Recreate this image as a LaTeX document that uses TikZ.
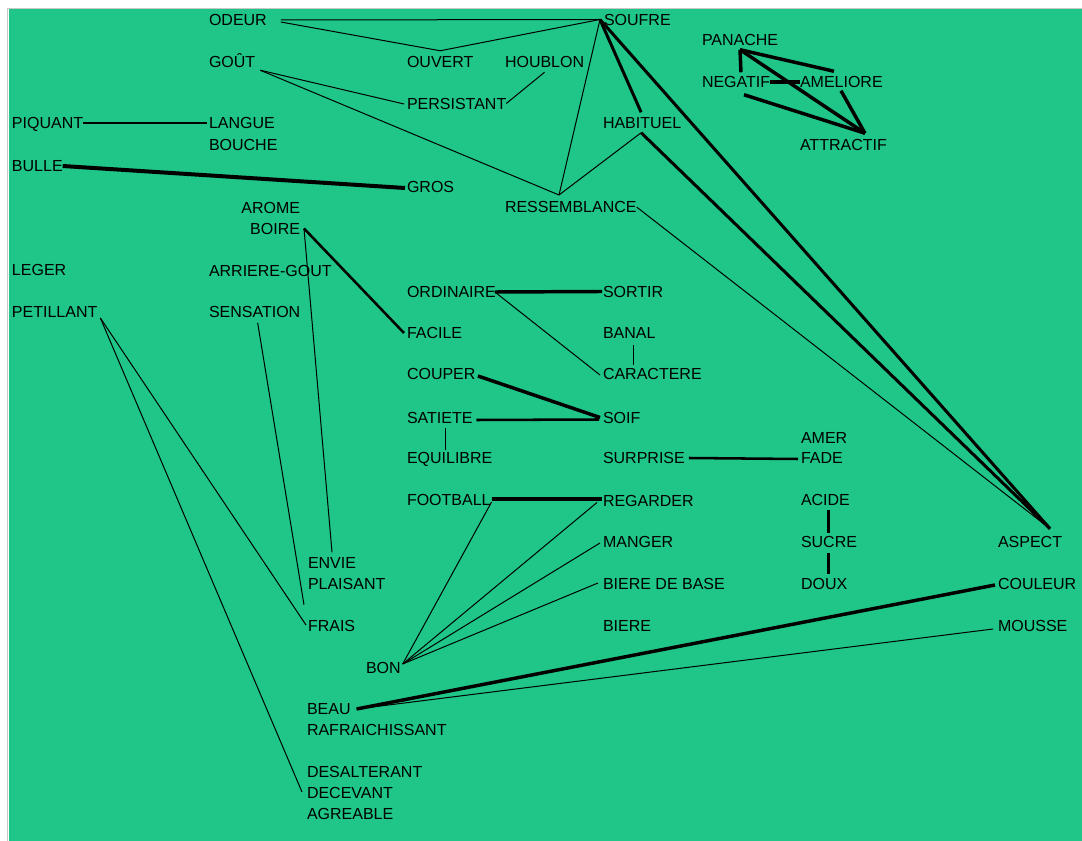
\documentclass[tikz,border=0pt]{standalone}
\usepackage{fontspec}
\setmainfont{Liberation Sans}
\usetikzlibrary{calc}
\definecolor{bggreen}{RGB}{31,198,135}
\definecolor{framegray}{RGB}{200,200,200}
\begin{document}
\begin{tikzpicture}[x=0.75pt,y=-0.75pt,
  lbl/.style={anchor=west,inner sep=0pt,outer sep=0pt,text height=8.6pt,text depth=0pt,font=\fontsize{12}{14}\selectfont,text=black},
  lblr/.style={lbl,anchor=east},
  thinln/.style={line width=0.75pt},
  midln/.style={line width=1.9pt},
  medln/.style={line width=2.25pt},
  thkln/.style={line width=2.6pt}]
\useasboundingbox (0,0) rectangle (1082,841);
\fill[white] (0,0) rectangle (1082,841);
\fill[bggreen] (8.5,9.5) rectangle (1082,841);
\draw[framegray,line width=1.1pt] (7.5,841) -- (7.5,8.5) -- (1082,8.5);

% labels
\node[lbl] (odeur) at (209,20) {ODEUR};
\node[lbl] (soufre) at (604,19.5) {SOUFRE};
\node[lbl] (panache) at (702,40) {PANACHE};
\node[lbl] (gout) at (209,61.5) {GOÛT};
\node[lbl] (ouvert) at (407,61.5) {OUVERT};
\node[lbl] (houblon) at (505,61.5) {HOUBLON};
\node[lbl] (negatif) at (702,82) {NEGATIF};
\node[lbl] (ameliore) at (800,82) {AMELIORE};
\node[lbl] (persistant) at (407,103.5) {PERSISTANT};
\node[lbl] (piquant) at (12,123) {PIQUANT};
\node[lbl] (langue) at (209,123) {LANGUE};
\node[lbl] (habituel) at (603,123) {HABITUEL};
\node[lbl] (bouche) at (209,145) {BOUCHE};
\node[lbl] (attractif) at (800,145) {ATTRACTIF};
\node[lbl] (bulle) at (12,166) {BULLE};
\node[lbl] (gros) at (407,186.5) {GROS};
\node[lblr] (arome) at (300,207.5) {AROME};
\node[lbl] (ressemblance) at (505,207) {RESSEMBLANCE};
\node[lblr] (boire) at (300,228.5) {BOIRE};
\node[lbl] (leger) at (12,270) {LEGER};
\node[lbl] (arriere) at (209,270.5) {ARRIERE-GOUT};
\node[lbl] (ordinaire) at (407,291.5) {ORDINAIRE};
\node[lbl] (sortir) at (603,291.5) {SORTIR};
\node[lbl] (petillant) at (12,312) {PETILLANT};
\node[lbl] (sensation) at (209,312) {SENSATION};
\node[lbl] (facile) at (407,333) {FACILE};
\node[lbl] (banal) at (603,333) {BANAL};
\node[lbl] (couper) at (407,374) {COUPER};
\node[lbl] (caractere) at (603,374) {CARACTERE};
\node[lbl] (satiete) at (407,417.5) {SATIETE};
\node[lbl] (soif) at (603,417.5) {SOIF};
\node[lbl] (amer) at (801,437.5) {AMER};
\node[lbl] (equilibre) at (407,458) {EQUILIBRE};
\node[lbl] (surprise) at (603,458) {SURPRISE};
\node[lbl] (fade) at (801,458) {FADE};
\node[lbl] (football) at (407,500) {FOOTBALL};
\node[lbl] (regarder) at (603,500.5) {REGARDER};
\node[lbl] (acide) at (801,500) {ACIDE};
\node[lbl] (aspect) at (998,541.7) {ASPECT};
\node[lbl] (manger) at (603,542) {MANGER};
\node[lbl] (sucre) at (801,542) {SUCRE};
\node[lbl] (envie) at (308,563) {ENVIE};
\node[lbl] (plaisant) at (308,584) {PLAISANT};
\node[lbl] (bierebase) at (603,584) {BIERE DE BASE};
\node[lbl] (doux) at (801,584) {DOUX};
\node[lbl] (couleur) at (998,584) {COULEUR};
\node[lbl] (frais) at (308,626) {FRAIS};
\node[lbl] (biere) at (603,626) {BIERE};
\node[lbl] (mousse) at (998,626) {MOUSSE};
\node[lbl] (bon) at (366,668) {BON};
\node[lbl] (beau) at (307,709) {BEAU};
\node[lbl] (rafraichissant) at (307,730) {RAFRAICHISSANT};
\node[lbl] (desalterant) at (307,772) {DESALTERANT};
\node[lbl] (decevant) at (307,793) {DECEVANT};
\node[lbl] (agreable) at (307,814) {AGREABLE};

% junction points
\coordinate (sJ) at ($(soufre.west)+(-4,0)$);
\coordinate (rJ) at ($(ressemblance.west)+(54,-12)$);
\coordinate (aJ) at ($(aspect.west)+(52,-13)$);
\coordinate (hJ) at ($(habituel.south)+(-1,4)$);
\coordinate (gJ) at ($(gout.south east)+(5,3)$);
\coordinate (bJ) at ($(boire.east)+(4,0)$);
\coordinate (pJ) at ($(petillant.east)+(3,6)$);
\coordinate (oJ) at ($(ordinaire.east)+(-1,0.5)$);
\coordinate (bnJ) at ($(bon.east)+(2,-4)$);
\coordinate (beJ) at ($(beau.east)+(6,0)$);
\coordinate (paJ) at ($(panache.south west)+(38,4)$);
\coordinate (atJ) at ($(attractif.north west)+(65,-6)$);

% connectors
\draw[thinln] ($(odeur.east)+(14,0)$) -- (sJ);
\draw[thinln] ($(odeur.east)+(14,2)$) -- ($(ouvert.north)+(0,-5)$) -- (sJ);
\draw[thinln] (gJ) -- ($(persistant.west)+(-3,0.5)$);
\draw[thinln] (gJ) -- (rJ);
\draw[thinln] (persistant.east) -- ($(houblon.south)+(0,5)$);
\draw[thinln] (sJ) -- (rJ);
\draw[medln] (sJ) -- ($(habituel.north)+(-1,-5)$);
\draw[thinln] (hJ) -- (rJ);
\draw[medln] (hJ) -- (aJ);
\draw[medln] (sJ) -- (aJ);
\draw[thinln] (ressemblance.east) -- (aJ);
\draw[midln] (piquant.east) -- ($(langue.west)+(-2,0)$);
\draw[line width=3pt] (bulle.east) -- ($(gros.west)+(-2,1.5)$);
\draw[midln] (bJ) -- ($(facile.west)+(-3,0)$);
\draw[thinln] (bJ) -- ($(envie.north)+(0,-5)$);
\draw[thinln] ($(sensation.south)+(3,5)$) -- ($(plaisant.south west)+(-4,15)$);
\draw[thinln] (pJ) -- ($(frais.west)+(-2,-1)$);
\draw[thinln] (pJ) -- ($(decevant.west)+(-5,-1)$);
\draw[thkln] (oJ) -- ($(sortir.west)+(-1,0)$);
\draw[thinln] (oJ) -- ($(caractere.west)+(-3,1)$);
\draw[thinln] ($(banal.west)+(30,12)$) -- ($(caractere.west)+(30,-9)$);
\draw[thkln] ($(couper.east)+(2.5,2)$) -- ($(soif.west)+(-3,0)$);
\draw[midln] ($(satiete.east)+(4,2.5)$) -- ($(soif.west)+(-4,2)$);
\draw[thinln] ($(satiete.west)+(38,10.5)$) -- ($(equilibre.west)+(38,-8)$);
\draw[midln] ($(surprise.east)+(4,0)$) -- ($(fade.west)+(-3,1)$);
\draw[thkln] ($(football.east)+(1,-1)$) -- ($(regarder.west)+(-1,-1.5)$);
\draw[thinln] (bnJ) -- ($(football.east)+(1,2)$);
\draw[thinln] (bnJ) -- ($(regarder.west)+(-6,2)$);
\draw[thinln] (bnJ) -- ($(manger.west)+(-3,1)$);
\draw[thinln] (bnJ) -- ($(bierebase.west)+(-5,-1)$);
\draw[medln] ($(acide.west)+(27,10)$) -- ($(sucre.west)+(27,-9)$);
\draw[medln] ($(sucre.west)+(27,11)$) -- ($(doux.west)+(27,-10)$);
\draw[thkln] (beJ) -- ($(couleur.west)+(-3,1)$);
\draw[thinln] (beJ) -- ($(mousse.west)+(-5,3)$);
\draw[thkln] (paJ) -- ($(ameliore.north west)+(34,-5)$);
\draw[thkln] (paJ) -- ($(negatif.north west)+(39,-4)$);
\draw[thkln] (paJ) -- (atJ);
\draw[thkln] (negatif.east) -- (ameliore.west);
\draw[thkln] ($(negatif.south west)+(42,7)$) -- (atJ);
\draw[thkln] ($(ameliore.south west)+(41,3)$) -- (atJ);
\end{tikzpicture}
\end{document}
